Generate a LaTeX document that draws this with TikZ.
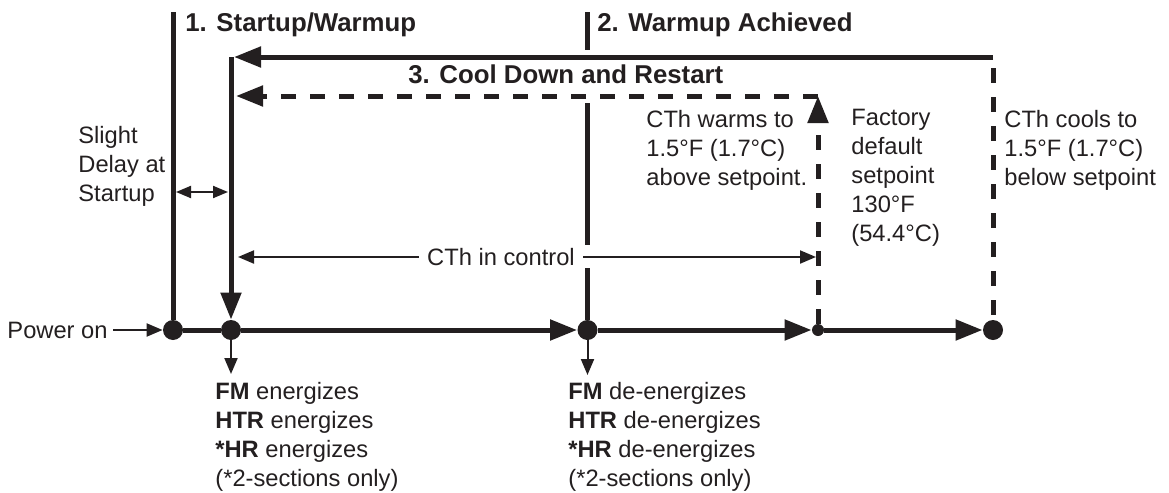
\documentclass[tikz,border=0pt]{standalone}
\usepackage{fontspec}
\setmainfont{Liberation Sans}
\usetikzlibrary{arrows.meta,positioning}
\definecolor{ink}{HTML}{231F20}
\tikzset{
  thickln/.style={line width=2.5pt},
  thinln/.style={line width=1pt},
  bigtip/.style={-{Triangle[length=13.5pt,width=10pt]}},
  smalltip/.style={-{Triangle[length=8pt,width=6.5pt]}},
  bothtip/.style={{Triangle[length=7.5pt,width=6pt]}-{Triangle[length=7.5pt,width=6pt]}},
  dashln/.style={dash pattern=on 7.5pt off 7pt},
  dot/.style={circle,fill=ink,inner sep=0pt,minimum size=10pt},
  lbl/.style={align=left,inner sep=0pt,anchor=west,font=\fontsize{11.85}{14.5}\selectfont},
  ttl/.style={inner sep=0pt,anchor=base west,font=\fontsize{12.9}{15}\selectfont\bfseries}
}
\begin{document}
\begin{tikzpicture}[x=0.5pt,y=-0.5pt,color=ink]
\useasboundingbox (0,0) rectangle (1169,493);
% time line
\node[dot] (d1) at (173,330) {};
\node[dot] (d2) at (231,330) {};
\node[dot] (d3) at (587.5,330) {};
\node[dot,minimum size=6pt] (d4) at (818,330) {};
\node[dot] (d5) at (993,330) {};
\coordinate (s1) at (173,12);
\coordinate (s2) at (587.5,12);
\coordinate (tl) at (231,57);
\coordinate (tr) at (993,57);
\coordinate (ul) at (236,96);
\coordinate (ur) at (818,96);
\coordinate (dl) at (176,192);
\coordinate (dr) at (228,192);
\coordinate (cl) at (238,257);
\coordinate (cr) at (816,257);
\coordinate (dn2) at (231,374);
\coordinate (dn3) at (587.5,375);
% labels
\node[lbl,anchor=east] (pwr) at (108,330) {Power on};
\node[ttl] (t1) at (185,31) {1. Startup/Warmup};
\node[ttl] (t2) at (597,31) {2. Warmup Achieved};
\node[ttl] (t3) at (408,83) {3. Cool Down and Restart};
\node[lbl] (slight) at (78,166) {Slight\\Delay at\\Startup};
\node[lbl] (warms) at (646,150) {CTh warms to\\1.5°F (1.7°C)\\above setpoint.};
\node[lbl] (fact) at (851,178) {Factory\\default\\setpoint\\130°F\\(54.4°C)};
\node[lbl] (cools) at (1004,150) {CTh cools to\\1.5°F (1.7°C)\\below setpoint};
\node[lbl,anchor=center,inner xsep=4pt] (cth) at (501,257) {CTh in control};
\node[lbl] (on) at (215,437) {\textbf{FM} energizes\\\textbf{HTR} energizes\\\textbf{*HR} energizes\\(*2-sections only)};
\node[lbl] (off) at (568,437) {\textbf{FM} de-energizes\\\textbf{HTR} de-energizes\\\textbf{*HR} de-energizes\\(*2-sections only)};
% connectors
\draw[thinln,smalltip,shorten <=2.5pt] (pwr) -- (d1);
\draw[thickln] (d1) -- (d2);
\draw[thickln,bigtip] (d2) -- (d3);
\draw[thickln,bigtip] (d3) -- (d4);
\draw[thickln,bigtip] (d4) -- (d5);
\draw[thickln] (s1) -- (d1);
\draw[thickln,bigtip] (tr) -- ([xshift=1.5pt]tl);
\draw[thickln,bigtip] (tl) -- (d2);
\draw[thickln,dashln,dash phase=-5.5pt] (tr) -- (d5);
\draw[thickln,dashln,bigtip] (ur) -- (ul);
\draw[thickln,dashln,bigtip] (d4) -- (ur);
\draw[thickln] (s2) -- ++(0,38) ++(0,53) -- ++(0,142) ++(0,23) -- (d3);
\draw[thinln,bothtip] (dl) -- (dr);
\draw[thinln,smalltip] (cth) -- (cl);
\draw[thinln,smalltip] (cth) -- (cr);
\draw[thinln,smalltip] (d2) -- (dn2);
\draw[thinln,smalltip] (d3) -- (dn3);
\end{tikzpicture}
\end{document}
